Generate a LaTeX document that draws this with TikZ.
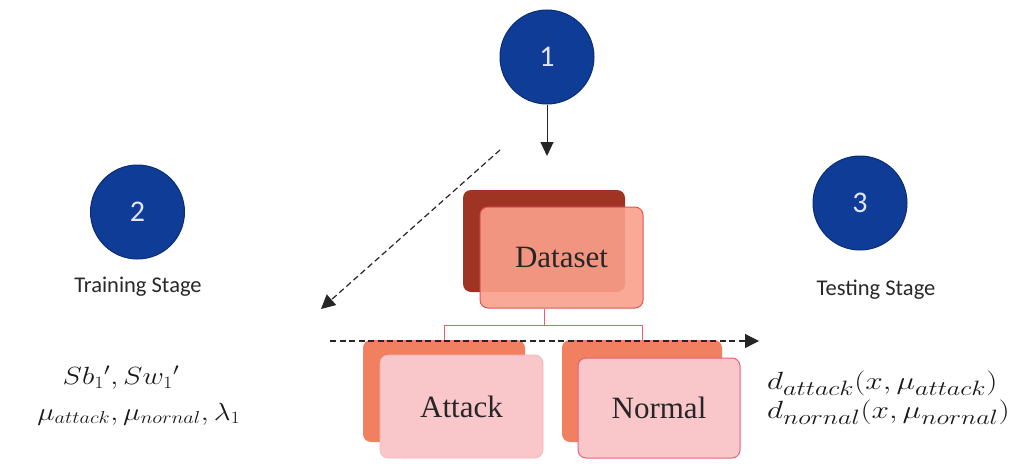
\documentclass[tikz,border=0pt]{standalone}
\usepackage{fontspec}
\usepackage{graphicx}
\setmainfont{Liberation Serif}
\newfontfamily\sansf{Carlito}
\usetikzlibrary{arrows.meta}
\definecolor{cblue}{RGB}{14,60,150}
\definecolor{cblueb}{RGB}{10,45,115}
\definecolor{dsback}{RGB}{160,52,36}
\definecolor{dsfront}{RGB}{250,160,140}
\definecolor{dsborder}{RGB}{226,82,88}
\definecolor{leafback}{RGB}{240,128,96}
\definecolor{leaffront}{RGB}{249,198,202}
\definecolor{leafborder}{RGB}{226,100,118}
\definecolor{linkc}{RGB}{232,96,106}
\definecolor{stagec}{RGB}{40,40,40}
\newcommand{\wmath}[1]{\scalebox{1.18}[1]{#1}}
\newcommand{\wmathr}[1]{\scalebox{1.26}[1]{#1}}
\tikzset{
  numcirc/.style={circle, fill=cblue, draw=cblueb, line width=1pt, minimum size=94pt, inner sep=0pt,
    text=white!90!blue, font=\sansf\fontsize{30}{34}\selectfont},
  stagelbl/.style={font=\sansf\fontsize{22.5}{26}\selectfont, text=stagec},
  backbox/.style={rounded corners=8pt, minimum width=162pt, minimum height=102pt, inner sep=0pt},
  frontbox/.style={rounded corners=8pt, minimum width=163pt, minimum height=101pt, inner sep=0pt,
    font=\fontsize{31}{34}\selectfont, text=black!85},
  mathlbl/.style={font=\fontsize{27}{30}\selectfont, text=black!90, inner sep=0pt},
  mathlblr/.style={font=\fontsize{29}{30}\selectfont, text=black!90, inner sep=0pt},
  solidarrow/.style={-{Triangle[length=14pt,width=13pt]}, line width=1pt, draw=black!85},
  dasharrow/.style={-{Triangle[length=14pt,width=14pt]}, line width=1.2pt, dash pattern=on 6pt off 3.5pt, draw=black!85},
  link/.style={draw=linkc, line width=0.9pt}
}
\begin{document}
\begin{tikzpicture}[x=1pt,y=-1pt]
\useasboundingbox (0,0) rectangle (1016,463);
% circles
\node[numcirc] (c1) at (547,57) {1};
\node[numcirc] (c2) at (137.5,212) {2};
\node[numcirc] (c3) at (860,203) {3};
\node[stagelbl] (t2) at (138,287) {Training Stage};
\node[stagelbl] (t3) at (876,290) {Testing Stage};
% dataset back box
\node[backbox, fill=dsback] (dsb) at (544,241) {};
% leaf back boxes
\node[backbox, fill=leafback, minimum width=162pt] (atb) at (444,391) {};
\node[backbox, fill=leafback, minimum width=160pt] (nmb) at (642,391) {};
% dataset front box
\node[frontbox, fill=dsfront, fill opacity=0.9, text opacity=1, draw=dsborder, line width=1pt] (dsf) at (561.5,257.5) {Dataset};
% tree connectors
\coordinate (split) at (544,325);
\draw[link] (dsb.south |- dsf.south) -- (split);
\draw[link] (split) -| (atb.north);
\draw[link] (split) -| (nmb.north);
% leaf front boxes
\node[frontbox, fill=leaffront, draw=leaffront!90!red, line width=0.6pt, minimum height=103pt] (atf) at (461.5,406.5) {Attack};
\node[frontbox, fill=leaffront, draw=leafborder, line width=1pt, minimum width=162pt, minimum height=100pt] (nmf) at (659,408) {Normal};
% arrows
\coordinate (a1) at (547,156);
\draw[solidarrow] (c1.south) -- (a1);
\coordinate (d1s) at (500,150);
\coordinate (d1e) at (321,309);
\draw[dasharrow] (d1s) -- (d1e);
\coordinate (d2s) at (330,341);
\coordinate (d2e) at (759,341);
\draw[dasharrow] (d2s) -- (d2e);
% formulas
\node[mathlbl] (f1) at (121,378) {\wmath{$Sb_1{}',Sw_1{}'$}};
\node[mathlbl] (f2) at (139,414) {\wmath{$\mu_{attack},\mu_{nornal},\lambda_1$}};
\node[mathlblr, anchor=west] (f3) at (767,383) {\wmathr{$d_{attack}(x,\mu_{attack})$}};
\node[mathlblr, anchor=west] (f4) at (767,412) {\wmathr{$d_{nornal}(x,\mu_{nornal})$}};
\end{tikzpicture}
\end{document}
